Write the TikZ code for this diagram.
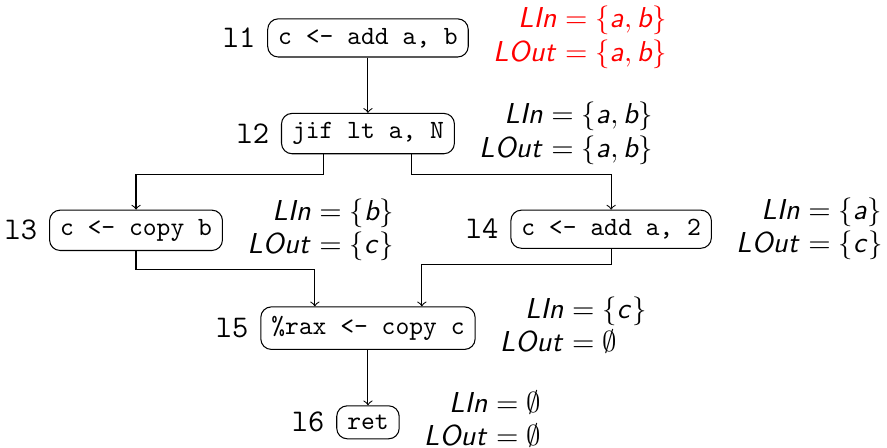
\documentclass[tikz,border=0pt]{standalone}
\usepackage{amsmath}
\usepackage{amssymb}
\usepackage{xcolor}
\usepackage{tikz}
\usetikzlibrary{arrows,positioning,calc}
\DeclareMathAlphabet{\mathsfit}{OT1}{cmss}{m}{sl}
\newcommand{\lv}[1]{\mathsfit{#1}}
\newcommand{\codefont}{\fontencoding{OT1}\fontfamily{cmtt}\selectfont}

\begin{document}
\begin{tikzpicture}[
    node distance=0.74cm,
    instr/.style={rectangle, draw, rounded corners, font=\codefont, inner xsep=4pt, inner ysep=3.5pt},
    lbl/.style={label={[font=\codefont\large, label distance=1pt]left:#1}},
    live/.style={right=0.2cm of #1, font=\fontsize{10.9}{12.8}\selectfont\setlength{\jot}{0pt}},
    arrow/.style={->},
]
    \useasboundingbox (0,0) rectangle (11.855,5.987);

    \node[instr, lbl=l1] (l1) at (4.918,5.48) {c <- add a, b};
    \node[instr, lbl=l2, below=of l1] (l2) {jif lt a, N};
    \node[instr, lbl=l3, below=of l2, xshift=-3.1cm] (l3) {c <- copy b};
    \node[instr, lbl=l4, below=of l2, xshift=3.25cm] (l4) {c <- add a, 2};
    \coordinate (m5) at (l3.south -| l2.south);
    \node[instr, lbl=l5, below=of m5] (l5) {\%rax <- copy c};
    \node[instr, lbl=l6, below=of l5] (l6) {ret};

    % liveness sets
    \node[live=l1, text=red] (s1) {$\begin{aligned}\lv{LIn} &= \{\lv{a}, \lv{b}\}\\ \lv{LOut} &= \{\lv{a}, \lv{b}\}\end{aligned}$};
    \node[live=l2] (s2) {$\begin{aligned}\lv{LIn} &= \{\lv{a}, \lv{b}\}\\ \lv{LOut} &= \{\lv{a}, \lv{b}\}\end{aligned}$};
    \node[live=l3] (s3) {$\begin{aligned}\lv{LIn} &= \{\lv{b}\}\\ \lv{LOut} &= \{\lv{c}\}\end{aligned}$};
    \node[live=l4] (s4) {$\begin{aligned}\lv{LIn} &= \{\lv{a}\}\\ \lv{LOut} &= \{\lv{c}\}\end{aligned}$};
    \node[live=l5] (s5) {$\begin{aligned}\lv{LIn} &= \{\lv{c}\}\\ \lv{LOut} &= \emptyset\end{aligned}$};
    \node[live=l6] (s6) {$\begin{aligned}\lv{LIn} &= \emptyset\\ \lv{LOut} &= \emptyset\end{aligned}$};

    \draw[arrow] (l1) -- (l2);
    \draw[arrow] ([xshift=-0.6cm]l2.south) -- ++(0,-0.27) -| (l3);
    \draw[arrow] ([xshift=0.58cm]l2.south) -- ++(0,-0.27) -| (l4);
    \draw[arrow] (l3.south) -- ++(0,-0.25) -| ([xshift=-0.71cm]l5.north);
    \draw[arrow] (l4.south) -- ++(0,-0.21) -| ([xshift=0.72cm]l5.north);
    \draw[arrow] (l5) -- (l6);
\end{tikzpicture}
\end{document}
